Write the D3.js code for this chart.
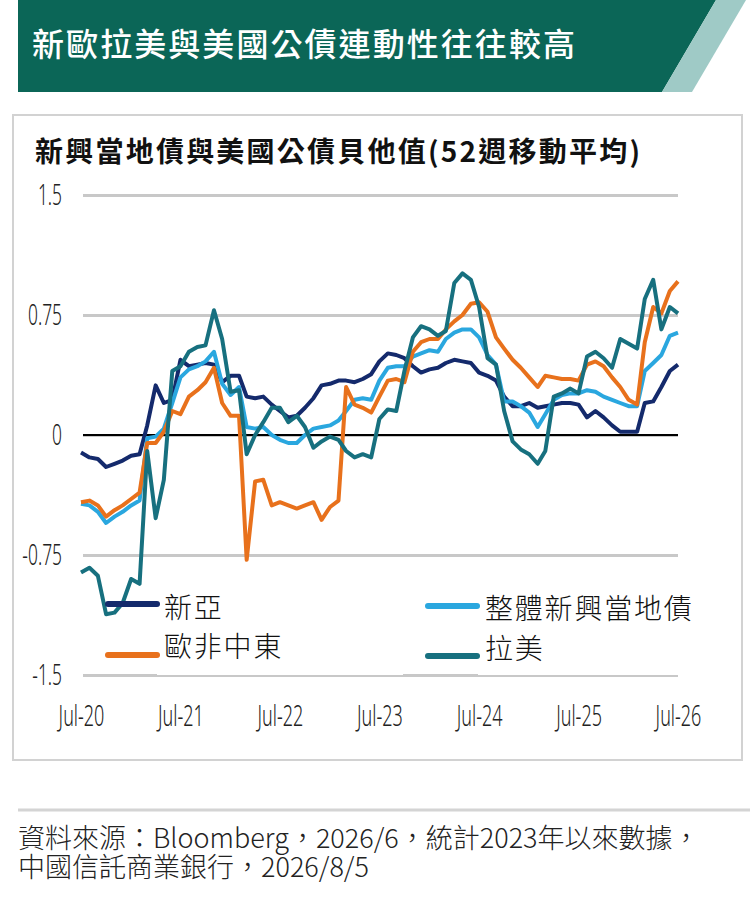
<!DOCTYPE html>
<html>
<head>
<meta charset="utf-8">
<script src="https://cdn.jsdelivr.net/npm/d3@7"></script>
<style>
  body { margin: 0; background: #fff; }
  svg { display: block; }
</style>
</head>
<body>
<div id="chart"></div>
<script>
// 系列名稱與顏色（依圖例順序）
const seriesNames = ["新亞", "整體新興當地債", "歐非中東", "拉美"];
const seriesColors = ["#142a6c", "#2aa7df", "#e8711c", "#17707f"];

// 月資料：2020/7 ~ 2026/7（73 個月）
const months = d3.timeMonth.range(new Date(2020, 6, 1), new Date(2026, 7, 1));

const asia = [
  -0.11, -0.14, -0.15, -0.20, -0.18, -0.16, -0.13, -0.12, 0.06, 0.31, 0.20, 0.22,
  0.47, 0.43, 0.44, 0.45, 0.44, 0.33, 0.37, 0.37, 0.24, 0.23, 0.24, 0.19,
  0.15, 0.11, 0.12, 0.17, 0.23, 0.31, 0.32, 0.34, 0.34, 0.33, 0.35, 0.38,
  0.46, 0.51, 0.50, 0.48, 0.43, 0.39, 0.41, 0.42, 0.45, 0.47, 0.46, 0.45,
  0.39, 0.37, 0.34, 0.24, 0.18, 0.18, 0.20, 0.17, 0.18, 0.19, 0.20, 0.20,
  0.19, 0.11, 0.15, 0.11, 0.06, 0.02, 0.02, 0.02, 0.20, 0.21, 0.30, 0.40, 0.44
];
const emAll = [
  -0.43, -0.44, -0.48, -0.55, -0.51, -0.48, -0.44, -0.41, -0.02, -0.01, 0.04, 0.20,
  0.36, 0.41, 0.43, 0.46, 0.52, 0.32, 0.25, 0.30, 0.05, 0.04, 0.05, 0.00,
  -0.03, -0.05, -0.05, 0.00, 0.04, 0.05, 0.06, 0.09, 0.15, 0.22, 0.23, 0.22,
  0.34, 0.42, 0.43, 0.43, 0.49, 0.51, 0.53, 0.52, 0.60, 0.64, 0.66, 0.66,
  0.61, 0.50, 0.44, 0.21, 0.21, 0.18, 0.14, 0.05, 0.13, 0.22, 0.25, 0.26,
  0.26, 0.28, 0.27, 0.24, 0.22, 0.20, 0.18, 0.18, 0.40, 0.45, 0.50, 0.62, 0.64
];
const emea = [
  -0.42, -0.41, -0.44, -0.51, -0.47, -0.44, -0.40, -0.36, -0.05, -0.05, 0.02, 0.15,
  0.13, 0.24, 0.28, 0.33, 0.42, 0.20, 0.12, 0.12, -0.78, -0.29, -0.28, -0.44,
  -0.42, -0.44, -0.46, -0.44, -0.42, -0.53, -0.45, -0.41, 0.30, 0.19, 0.17, 0.14,
  0.24, 0.34, 0.35, 0.33, 0.52, 0.58, 0.60, 0.60, 0.66, 0.71, 0.75, 0.82,
  0.83, 0.77, 0.61, 0.54, 0.47, 0.42, 0.36, 0.30, 0.37, 0.36, 0.35, 0.35,
  0.34, 0.44, 0.46, 0.43, 0.36, 0.30, 0.22, 0.19, 0.58, 0.80, 0.76, 0.90, 0.96
];
const latam = [
  -0.86, -0.83, -0.88, -1.12, -1.11, -1.05, -0.90, -0.93, -0.10, -0.52, -0.28, 0.40,
  0.43, 0.52, 0.55, 0.56, 0.78, 0.60, 0.27, 0.28, -0.12, 0.00, 0.08, 0.17,
  0.17, 0.08, 0.12, 0.05, -0.08, -0.04, -0.01, -0.03, -0.10, -0.14, -0.12, -0.14,
  0.10, 0.16, 0.15, 0.40, 0.61, 0.68, 0.66, 0.62, 0.65, 0.95, 1.01, 0.97,
  0.80, 0.48, 0.44, 0.15, -0.04, -0.09, -0.12, -0.18, -0.10, 0.24, 0.26, 0.29,
  0.26, 0.49, 0.52, 0.48, 0.42, 0.60, 0.57, 0.54, 0.85, 0.97, 0.66, 0.80, 0.76
];
const seriesValues = [asia, emAll, emea, latam];

const yTicks = [1.5, 0.75, 0, -0.75, -1.5];
const xTicks = [2020, 2021, 2022, 2023, 2024, 2025, 2026].map(y => new Date(y, 6, 1));

const titleText = "新歐拉美與美國公債連動性往往較高";
const subtitleText = "新興當地債與美國公債貝他值(52週移動平均)";
const sourceLines = [
  "資料來源：Bloomberg，2026/6，統計2023年以來數據，",
  "中國信託商業銀行，2026/8/5"
];

const W = 750, H = 901;
const cjk = "'Noto Sans CJK TC', 'Noto Sans CJK SC', sans-serif";
const tickFont = "'Noto Sans', 'Open Sans', sans-serif";

const svg = d3.select("#chart").append("svg")
  .attr("width", W).attr("height", H);

// 壓窄字型（參考圖刻度字較窄）
function condense(sel, k) {
  sel.each(function () {
    const w = this.getComputedTextLength();
    d3.select(this).attr("textLength", w * k).attr("lengthAdjust", "spacingAndGlyphs");
  });
}

// 標題橫幅
svg.append("polygon")
  .attr("points", "18,0 716,0 662,92 18,92")
  .attr("fill", "#0b6657");
svg.append("polygon")
  .attr("points", "716,0 746,0 692,92 662,92")
  .attr("fill", "#9fcac6");
svg.append("text")
  .attr("x", 32).attr("y", 42)
  .attr("dominant-baseline", "central")
  .attr("fill", "#fff")
  .style("font-family", cjk).style("font-size", "32px").style("font-weight", 500)
  .attr("textLength", 543).attr("lengthAdjust", "spacing")
  .text(titleText);

// 圖表外框
svg.append("rect")
  .attr("x", 13).attr("y", 115).attr("width", 729).attr("height", 645)
  .attr("fill", "#fff").attr("stroke", "#d2d2d2").attr("stroke-width", 2);

svg.append("text")
  .attr("x", 35).attr("y", 150)
  .attr("dominant-baseline", "central")
  .attr("fill", "#111")
  .style("font-family", cjk).style("font-size", "28px").style("font-weight", 700)
  .attr("textLength", 605).attr("lengthAdjust", "spacing")
  .text(subtitleText);

// 比例尺
const x = d3.scaleTime()
  .domain([new Date(2020, 6, 1), new Date(2026, 6, 1)])
  .range([81, 678]);
const y = d3.scaleLinear().domain([-1.5, 1.5]).range([675, 195]);
const gridLeft = 83, gridRight = 678;

// Y 軸與格線
const yAxis = svg.append("g")
  .attr("transform", `translate(${gridLeft},0)`)
  .call(d3.axisLeft(y).tickValues(yTicks)
    .tickSize(-(gridRight - gridLeft)).tickPadding(21)
    .tickFormat(d => d === 0 ? "0" : String(d)));
yAxis.select(".domain").remove();
yAxis.selectAll(".tick line").attr("stroke", "#c8c8c8").attr("stroke-width", 3);
yAxis.selectAll(".tick text")
  .attr("fill", "#222")
  .style("font-family", tickFont).style("font-size", "29px").style("font-weight", 300)
  .call(condense, 0.6);

// 零軸
svg.append("line")
  .attr("x1", gridLeft).attr("x2", gridRight)
  .attr("y1", y(0)).attr("y2", y(0))
  .attr("stroke", "#000").attr("stroke-width", 2);

// X 軸標籤
const xAxis = svg.append("g")
  .attr("transform", "translate(0,716)")
  .call(d3.axisBottom(x).tickValues(xTicks).tickSize(0).tickPadding(0)
    .tickFormat(d3.timeFormat("%b-%y")));
xAxis.select(".domain").remove();
xAxis.selectAll(".tick text")
  .attr("fill", "#222")
  .attr("dy", "0.35em")
  .style("font-family", tickFont).style("font-size", "29px").style("font-weight", 300)
  .call(condense, 0.62);

// 折線
const line = d3.line()
  .x((d, i) => x(months[i]))
  .y(d => y(d));

svg.append("g").selectAll("path")
  .data(seriesValues)
  .join("path")
  .attr("d", line)
  .attr("fill", "none")
  .attr("stroke", (d, i) => seriesColors[i])
  .attr("stroke-width", 4)
  .attr("stroke-linejoin", "round");

// 圖例（文字區塊白底，蓋住 -1.5 格線上半部）
svg.append("rect").attr("x", 157).attr("y", 585).attr("width", 246).attr("height", 90).attr("fill", "#fff");
svg.append("rect").attr("x", 478).attr("y", 585).attr("width", 202).attr("height", 90).attr("fill", "#fff");

const legendItems = [
  { i: 0, lx: 108, ly: 604, tx: 164, ty: 606 },
  { i: 1, lx: 428, ly: 606, tx: 485, ty: 607 },
  { i: 2, lx: 108, ly: 655, tx: 164, ty: 645 },
  { i: 3, lx: 428, ly: 656, tx: 485, ty: 647 }
];
const legend = svg.append("g").selectAll("g")
  .data(legendItems)
  .join("g");
legend.append("line")
  .attr("x1", d => d.lx).attr("x2", d => d.lx + 49)
  .attr("y1", d => d.ly).attr("y2", d => d.ly)
  .attr("stroke", d => seriesColors[d.i])
  .attr("stroke-width", 6).attr("stroke-linecap", "round");
legend.append("text")
  .attr("x", d => d.tx).attr("y", d => d.ty)
  .attr("dominant-baseline", "central")
  .attr("fill", "#111")
  .style("font-family", cjk).style("font-size", "28px").style("font-weight", 300)
  .style("letter-spacing", "1.8px")
  .text(d => seriesNames[d.i]);

// 資料來源（同一段文字分兩行）
svg.append("line")
  .attr("x1", 18).attr("x2", 750).attr("y1", 810).attr("y2", 810)
  .attr("stroke", "#d4d4d4").attr("stroke-width", 3);
svg.append("text")
  .attr("fill", "#222")
  .style("font-family", cjk).style("font-size", "27px").style("font-weight", 300)
  .selectAll("tspan")
  .data(sourceLines)
  .join("tspan")
  .attr("x", 18).attr("y", (d, i) => 848 + i * 29)
  .text(d => d);
</script>
</body>
</html>
